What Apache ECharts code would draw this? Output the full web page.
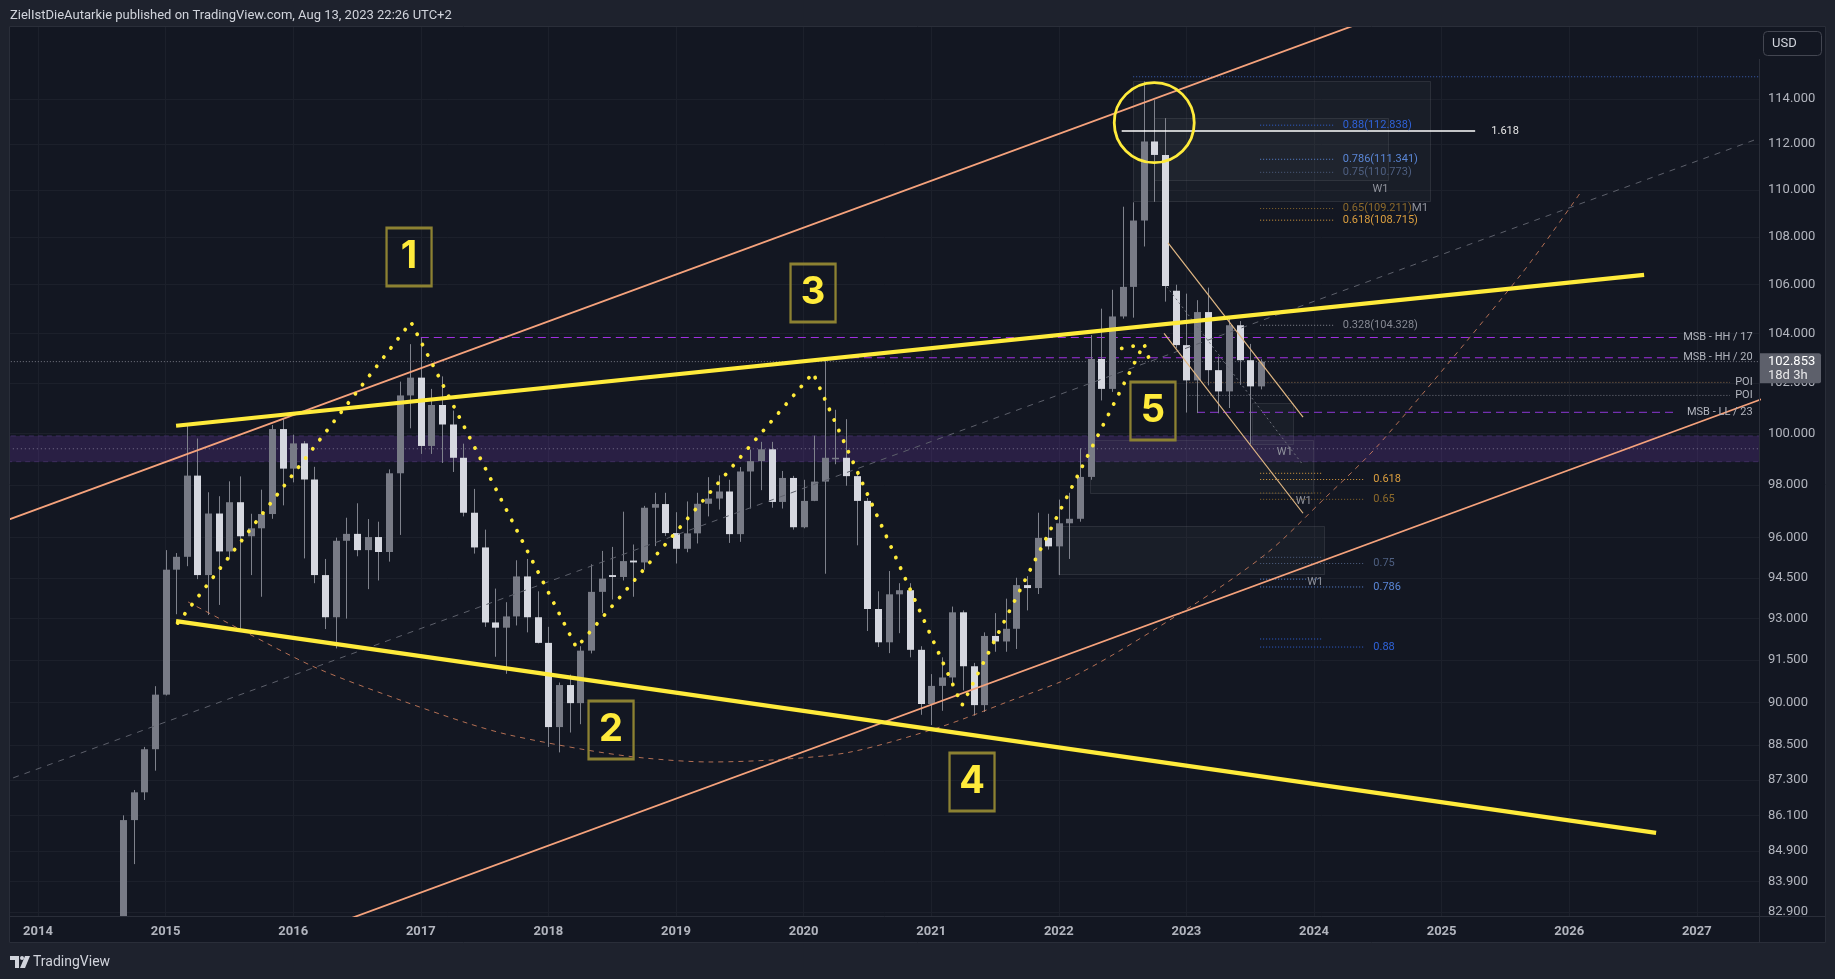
<!DOCTYPE html>
<html><head><meta charset="utf-8">
<script src="https://cdn.jsdelivr.net/npm/echarts@6/dist/echarts.min.js"></script>
<style>html,body{margin:0;padding:0;background:#1e222d;}#c{width:1835px;height:979px;}</style>
</head><body><div id="c"></div>
<script>
// ---------------- DATA (US Dollar Index, monthly) ----------------
const months = ['2014-09','2014-10','2014-11','2014-12',
'2015-01','2015-02','2015-03','2015-04','2015-05','2015-06','2015-07','2015-08','2015-09','2015-10','2015-11','2015-12',
'2016-01','2016-02','2016-03','2016-04','2016-05','2016-06','2016-07','2016-08','2016-09','2016-10','2016-11','2016-12',
'2017-01','2017-02','2017-03','2017-04','2017-05','2017-06','2017-07','2017-08','2017-09','2017-10','2017-11','2017-12',
'2018-01','2018-02','2018-03','2018-04','2018-05','2018-06','2018-07','2018-08','2018-09','2018-10','2018-11','2018-12',
'2019-01','2019-02','2019-03','2019-04','2019-05','2019-06','2019-07','2019-08','2019-09','2019-10','2019-11','2019-12',
'2020-01','2020-02','2020-03','2020-04','2020-05','2020-06','2020-07','2020-08','2020-09','2020-10','2020-11','2020-12',
'2021-01','2021-02','2021-03','2021-04','2021-05','2021-06','2021-07','2021-08','2021-09','2021-10','2021-11','2021-12',
'2022-01','2022-02','2022-03','2022-04','2022-05','2022-06','2022-07','2022-08','2022-09','2022-10','2022-11','2022-12',
'2023-01','2023-02','2023-03','2023-04','2023-05','2023-06','2023-07','2023-08'];
const opens = [82.76,85.94,86.88,88.36,
90.27,94.80,95.28,98.36,94.60,96.91,95.48,97.34,96.05,96.35,96.89,100.17,
98.63,99.61,98.21,94.60,93.05,95.88,96.14,95.53,96.02,95.46,98.45,101.50,
102.21,99.51,101.12,100.35,99.05,96.94,95.63,92.86,92.67,93.08,94.55,93.05,
92.12,89.13,90.61,89.97,91.84,93.98,94.60,94.53,95.14,95.07,97.13,97.27,
96.17,95.58,96.16,97.28,97.48,97.75,96.13,98.52,98.92,99.38,97.35,98.27,
96.39,97.39,98.13,99.00,99.05,98.34,97.39,93.35,92.14,93.89,94.04,91.87,
89.94,90.58,90.88,93.23,91.28,89.90,92.37,92.17,92.63,94.23,94.12,95.99,
95.67,96.54,96.71,98.31,102.96,101.76,104.69,105.91,108.70,112.12,111.53,105.75,
103.52,102.10,104.87,102.51,101.66,104.33,102.91,101.86];
const highs = [86.10,86.96,88.44,90.57,
95.53,95.42,100.39,99.80,97.72,97.57,98.14,98.33,96.90,97.82,100.33,100.60,
99.95,99.70,98.70,95.20,96.00,96.75,97.30,96.70,96.60,98.60,102.05,103.56,
103.82,101.76,102.26,100.90,99.60,97.85,96.30,94.10,93.60,95.15,95.20,94.00,
92.70,90.70,90.98,92.00,95.00,95.50,95.65,96.98,95.74,97.20,97.70,97.70,
96.96,97.37,97.70,98.30,98.37,98.20,98.69,99.37,99.67,99.67,98.54,98.35,
98.20,99.91,102.99,100.93,100.56,98.40,97.50,94.00,94.75,94.30,94.30,92.00,
91.00,91.60,93.44,93.30,91.40,92.50,93.20,93.73,94.50,94.56,96.94,96.90,
97.44,97.70,99.42,103.93,105.01,105.79,109.29,109.48,114.79,113.95,113.15,106.00,
105.63,105.36,105.88,103.06,104.70,104.50,103.57,102.95];
const lows = [82.53,84.47,86.62,87.62,
90.24,93.16,94.93,94.45,93.13,93.50,95.18,92.62,94.60,93.80,96.71,97.22,
98.10,95.22,94.30,92.62,91.92,93.00,95.30,94.08,94.40,95.10,96.10,100.20,
99.20,99.20,98.85,98.50,96.80,95.40,92.70,91.62,91.01,92.75,92.50,92.10,
88.44,88.25,88.94,89.23,91.74,93.20,93.70,94.40,93.80,94.80,95.68,96.06,
95.03,95.45,95.78,96.80,97.06,95.80,95.84,97.10,97.80,97.13,97.10,96.30,
96.35,97.38,94.65,98.80,97.97,95.71,92.55,91.97,91.75,92.47,91.60,89.56,
89.20,89.70,90.60,90.42,89.53,89.66,91.80,91.80,91.90,93.30,93.90,95.55,
94.60,95.20,96.60,98.20,101.30,101.64,104.60,104.64,107.60,109.50,105.30,103.39,
100.82,100.80,101.90,100.79,101.00,101.92,99.58,101.74];
const closes = [85.94,86.88,88.36,90.27,
94.80,95.28,98.36,94.60,96.91,95.48,97.34,96.05,96.35,96.89,100.17,98.63,
99.61,98.21,94.60,93.05,95.88,96.14,95.53,96.02,95.46,98.45,101.50,102.21,
99.51,101.12,100.35,99.05,96.94,95.63,92.86,92.67,93.08,94.55,93.05,92.12,
89.13,90.61,89.97,91.84,93.98,94.47,94.53,95.12,95.07,97.13,97.27,96.17,
95.58,96.16,97.28,97.48,97.75,96.13,98.52,98.92,99.38,97.35,98.27,96.39,
97.39,98.13,99.05,99.05,98.34,97.39,93.35,92.14,93.89,94.04,91.87,89.94,
90.58,90.88,93.23,91.28,89.90,92.37,92.17,92.63,94.23,94.12,95.99,95.67,
96.54,96.71,98.31,102.96,101.76,104.69,105.91,108.70,112.12,111.53,105.95,103.52,
102.10,104.87,102.51,101.66,104.33,102.91,101.86,102.85];

const yTickLabels = [114, 112, 110, 108, 106, 104, 102, 100, 98, 96, 94.5, 93, 91.5, 90, 88.5, 87.3, 86.1, 84.9, 83.9, 82.9];
const xTickLabels = [2014,2015,2016,2017,2018,2019,2020,2021,2022,2023,2024,2025,2026,2027];
const lastPrice = 102.853;
const countdown = '18d 3h';

// drawings: [decimal year, price]
const channelUpper = [[2014.486, 97.96], [2023.578, 115.76]];
const channelLower = [[2020.286, 88.74], [2024.831, 96.48]];
const channelMid   = [[2014.486, 88.47], [2027.488, 112.26]];
const wedgeUpper   = [[2015.082, 100.30], [2026.587, 106.41]];
const wedgeLower   = [[2015.082, 92.91], [2026.681, 85.51]];
const arcPoints = [[2015.176,93.61],[2015.638,92.48],[2016.187,91.21],[2016.838,90.08],[2017.363,89.27],[2017.699,88.85],
  [2018.303,88.33],[2018.742,88.06],[2019.267,87.92],[2019.792,88.00],[2020.364,88.26],[2021.069,89.13],[2021.594,90.01],
  [2022.167,91.04],[2023.028,93.42],[2023.632,95.42],[2024.071,97.43],[2024.518,99.62],[2025.62,106.41],[2026.085,109.87]];
const wavePoints = [[2015.095,92.84],[2016.923,104.46],[2018.22,91.95],[2020.074,102.40],[2021.242,89.90],[2022.668,103.57],[2022.731,102.60]];
const waveSmall = [[2022.493,103.39],[2022.668,103.57]];
const waveLabels = ['1','2','3','4','5'];
const waveLabelAt = [[2016.908,107.16],[2018.491,89.03],[2020.074,105.66],[2021.32,87.23],[2022.738,100.88]];
const circleAt = [2022.748, 112.95];
const extLine = [[2022.493,112.58],[2025.263,112.58]];
const extLabel = '1.618';
const fallUpper = [[2022.856,107.75],[2023.914,100.64]];
const fallLower = [[2022.825,104.00],[2023.914,96.92]];
const fallMid   = [[2022.846,105.92],[2023.914,98.77]];
const topFibLevels = [[0.88,112.838],[0.786,111.341],[0.75,110.773],[0.65,109.211],[0.618,108.715],[0.328,104.328]];
const lowFibLevels = [[0.618,98.21],[0.65,97.45],[0.75,95.03],[0.786,94.16],[0.88,91.97]];
const lowFibLevels2 = [98.45,97.69,95.26,94.45,92.26];
const msbLevels = [['MSB - HH / 17',103.83,2017.0],['MSB - HH / 20',103.01,2020.167],['MSB - LL / 23',100.83,2023.083]];
const poiLevels = [102.02, 101.50];
const zone = [98.9, 99.9, 99.4];
const topLine = 115.0;
const boxes = [[2022.583,114.8,2024.914,109.53],[2022.747,113.14,2024.583,110.44],[2023.512,101.19,2023.83,99.58],
  [2022.245,99.74,2023.995,97.69],[2021.997,96.43,2024.081,94.64]];
const w1Labels = [[2024.52,110.06],[2023.77,99.26],[2023.92,97.39],[2024.01,94.34]];

// ---------------- helpers ----------------
const L = Math.log;
const ym = y => (y - 2014) * 12;
const mOf = s => (parseInt(s.slice(0,4)) - 2014) * 12 + parseInt(s.slice(5,7)) - 1;
const P = ([y, p]) => [ym(y), L(p)];
const XMIN = -2.633, XMAX = 161.85;
function extend(a, b) {
  const A = P(a), B = P(b), s = (B[1]-A[1])/(B[0]-A[0]);
  return [[XMIN-5, A[1]+s*(XMIN-5-A[0])], [XMAX+5, A[1]+s*(XMAX+5-A[0])]];
}
function line(data, style, z, extra) {
  return Object.assign({type:'line', data, symbol:'none', showSymbol:false, silent:true, animation:false,
    clip:true, z: z||4, lineStyle: style, emphasis:{disabled:true}}, extra||{});
}
const FONT = 'Roboto, "Noto Sans", sans-serif';
const C = {blue:'#2f62d8', lblue:'#5a86d6', gblue:'#4e5f80', brown:'#8d6a2b', orange:'#dc9f3f', gray:'#868993'};
const topColors = [C.blue, C.lblue, C.gblue, C.brown, C.orange, C.gray];
const lowColors = [C.orange, C.brown, C.gblue, C.lblue, C.blue];

const candleData = months.map((m,i) => [mOf(m), L(opens[i]), L(highs[i]), L(lows[i]), L(closes[i])]);

const series = [];
// zone band
series.push({type:'custom', z:1, silent:true, clip:true, animation:false,
  data:[[XMIN-5, L(zone[1]), XMAX+5, L(zone[0])]], encode:{x:[0,2], y:[1,3]},
  renderItem(params, api){
    const a = api.coord([api.value(0), api.value(1)]), b = api.coord([api.value(2), api.value(3)]);
    return {type:'rect', shape:{x:a[0], y:a[1], width:b[0]-a[0], height:b[1]-a[1]},
      style:{fill:'rgba(112,58,180,0.24)', stroke:'#3d2d5e', lineWidth:1, lineDash:[5,4]}};
  }});
series.push(line([[XMIN-5,L(zone[2])],[XMAX+5,L(zone[2])]], {color:'rgba(190,185,205,0.55)', width:1, type:[1,3]}, 1));
// boxes
series.push({type:'custom', z:1, silent:true, clip:true, animation:false,
  data: boxes.map(b => [ym(b[0]), L(b[1]), ym(b[2]), L(b[3])]), encode:{x:[0,2], y:[1,3]},
  renderItem(params, api){
    const a = api.coord([api.value(0), api.value(1)]), b = api.coord([api.value(2), api.value(3)]);
    return {type:'rect', shape:{x:Math.round(a[0])+0.5, y:Math.round(a[1])+0.5, width:Math.round(b[0]-a[0]), height:Math.round(b[1]-a[1])},
      style:{fill:'rgba(120,123,134,0.07)', stroke:'rgba(120,123,134,0.22)', lineWidth:1}};
  }});
// candles
series.push({type:'custom', z:3, silent:true, clip:true, animation:false,
  data: candleData, encode:{x:0, y:[1,2,3,4]},
  renderItem(params, api){
    const x = api.value(0), o = api.value(1), h = api.value(2), l = api.value(3), c = api.value(4);
    const pO = api.coord([x,o]), pC = api.coord([x,c]), pH = api.coord([x,h]), pL = api.coord([x,l]);
    const cx = Math.round(pO[0]) + 0.5;
    const top = Math.min(pO[1], pC[1]), bot = Math.max(pO[1], pC[1]);
    const up = c >= o;
    return {type:'group', children:[
      {type:'line', shape:{x1:cx, y1:pH[1], x2:cx, y2:pL[1]}, style:{stroke:'#7f828c', lineWidth:1}},
      {type:'rect', shape:{x:cx-3.5, y:top, width:7, height:Math.max(bot-top, 1.5)}, style:{fill: up ? '#787b86' : '#d6d8e0'}}
    ]};
  }});
// price line
series.push(line([[XMIN-5,L(lastPrice)],[XMAX+5,L(lastPrice)]], {color:'#787b86', width:1, type:[1,2]}, 2));
// top blue dotted
series.push(line([[ym(2022.583),L(topLine)],[XMAX+5,L(topLine)]], {color:'#3d62b8', width:1, type:[1,2]}, 2));
// MSB lines
msbLevels.forEach((m,i) => {
  series.push(line([[ym(m[2]),L(m[1])],[ym(2026.85),L(m[1])]], {color: i===2 ? '#7430b0' : '#a030e0', width:1.2, type:[8,5]}, 2));
});
series.push(line([[ym(2023.0),L(poiLevels[0])],[ym(2027.26),L(poiLevels[0])]], {color:'#8a6a4a', width:1, type:[1,2]}, 2));
series.push(line([[ym(2023.0),L(poiLevels[1])],[ym(2027.26),L(poiLevels[1])]], {color:'#70737d', width:1, type:[1,2]}, 2));
// fib lines
topFibLevels.forEach((f,i) => series.push(line([[ym(2023.578),L(f[1])],[ym(2024.15),L(f[1])]], {color:topColors[i], width:1, type:[1,2]}, 2)));
lowFibLevels.forEach((f,i) => series.push(line([[ym(2023.578),L(f[1])],[ym(2024.4),L(f[1])]], {color:lowColors[i], width:1, type:[1,2]}, 2)));
lowFibLevels2.forEach((p,i) => series.push(line([[ym(2023.578),L(p)],[ym(2024.07),L(p)]], {color:lowColors[i], width:1, type:[1,2]}, 2)));
// channel lines
series.push(line(extend(...channelMid), {color:'#5d606b', width:1, type:[6,6]}, 4));
series.push(line(extend(...channelUpper), {color:'#f5a27c', width:1.8}, 4));
series.push(line(extend(...channelLower), {color:'#f5a27c', width:1.8}, 4));
series.push(line(arcPoints.map(P), {color:'rgba(232,140,100,0.75)', width:1, type:[5,5]}, 4, {smooth:0.3}));
// falling channel
series.push(line(fallUpper.map(P), {color:'#e2b884', width:1.2}, 4));
series.push(line(fallLower.map(P), {color:'#e2b884', width:1.2}, 4));
series.push(line(fallMid.map(P), {color:'#6f727c', width:1, type:[2,3]}, 4));
// wedge yellow lines
series.push(line(wedgeUpper.map(P), {color:'#ffeb3b', width:4.2}, 5));
series.push(line(wedgeLower.map(P), {color:'#ffeb3b', width:4.2}, 5));
// 1.618 line
series.push(line(extLine.map(P), {color:'#ffffff', width:1.5}, 5));
// wave zigzag
series.push(line(wavePoints.map(P), {color:'#ffeb3b', width:3.8, type:[0.1,11.5], cap:'round'}, 6));
series.push(line(waveSmall.map(P), {color:'#ffeb3b', width:3.8, type:[0.1,11.5], cap:'round'}, 6));
// circle
series.push({type:'scatter', z:7, silent:true, animation:false, data:[P(circleAt)], symbol:'circle', symbolSize:80,
  itemStyle:{color:'rgba(0,0,0,0)', borderColor:'#ffeb3b', borderWidth:2.8, opacity:1}, emphasis:{disabled:true}});
// wave number boxes
series.push({type:'scatter', z:7, silent:true, animation:false,
  data: waveLabelAt.map((a,i) => [ym(a[0]), L(a[1]), waveLabels[i]]), symbol:'rect', symbolSize:[45,58],
  itemStyle:{color:'rgba(0,0,0,0)', borderColor:'#8c8132', borderWidth:2.6, opacity:1}, emphasis:{disabled:true},
  label:{show:true, position:'inside', formatter: p => p.value[2], color:'#ffeb3b', opacity:1, fontSize:38, fontWeight:'bold', fontFamily:'Inter, Roboto, sans-serif'}});

// text annotations
const texts = [];
topFibLevels.forEach((f,i) => {
  if (f[0] === 0.65) texts.push({at:[2024.225,f[1]], rich:true, text:'{a|' + f[0] + '(' + f[1].toFixed(3) + ')}{b|M1}', color:topColors[i]});
  else texts.push({at:[2024.225,f[1]], text: f[0] + '(' + f[1].toFixed(3) + ')', color:topColors[i]});
});
lowFibLevels.forEach((f,i) => texts.push({at:[2024.465,f[1]], text:String(f[0]), color:lowColors[i]}));
w1Labels.forEach(a => texts.push({at:a, text:'W1', color:'#8f929b', align:'center'}));
msbLevels.forEach(m => texts.push({at:[2027.438,m[1]], text:m[0], color:'#b2b5be', align:'right'}));
poiLevels.forEach(p => texts.push({at:[2027.438,p], text:'POI', color:'#b2b5be', align:'right'}));
texts.push({at:[2025.39, extLine[0][1]], text:extLabel, color:'#e6e6e6'});
series.push({type:'custom', z:8, silent:true, clip:false, animation:false,
  data: texts.map((t,i) => [ym(t.at[0]), L(t.at[1]), i]), encode:{x:0, y:1},
  renderItem(params, api){
    const t = texts[params.dataIndex];
    const p = api.coord([api.value(0), api.value(1)]);
    const style = {text:t.text, fill:t.color, font:'11px ' + FONT, align:t.align||'left', verticalAlign:'middle'};
    if (t.rich) style.rich = {a:{fill:t.color, font:'11px ' + FONT}, b:{fill:'#8f929b', font:'11.5px ' + FONT}};
    return {type:'text', x:p[0], y:p[1], style};
  }});

const chart = echarts.init(document.getElementById('c'), null, {renderer:'canvas'});
chart.setOption({
  backgroundColor:'#131722',
  animation:false,
  grid:{left:10, right:76, top:26, bottom:63, outerBoundsMode:'none', containLabel:false},
  xAxis:{type:'value', min:XMIN, max:XMAX,
    axisLine:{show:true, lineStyle:{color:'#2a2e39'}}, axisTick:{show:false, customValues: xTickLabels.map(y => (y-2014)*12)},
    splitLine:{show:true, lineStyle:{color:'#1c202b'}},
    axisLabel:{customValues: xTickLabels.map(y => (y-2014)*12), formatter: v => String(Math.round(2014 + v/12)),
      color:'#b2b5be', fontSize:13, fontWeight:'bold', fontFamily:FONT, margin:9}},
  yAxis:{type:'value', position:'right', min:L(82.77), max:L(117.31), scale:true,
    axisLine:{show:false}, axisTick:{show:false, customValues: yTickLabels.map(L)},
    splitLine:{show:true, lineStyle:{color:'#1c202b'}},
    axisLabel:{customValues: yTickLabels.map(L), formatter: v => Math.exp(v).toFixed(3),
      color:'#b2b5be', fontSize:13, fontFamily:FONT, margin:9}},
  series
});

const py = chart.convertToPixel({yAxisIndex:0}, L(lastPrice));
chart.setOption({graphic:[
  {type:'rect', silent:true, shape:{x:0,y:0,width:1835,height:26}, style:{fill:'#1e222d'}, z:100},
  {type:'rect', silent:true, shape:{x:0,y:943,width:1835,height:36}, style:{fill:'#1e222d'}, z:100},
  {type:'rect', silent:true, shape:{x:0,y:0,width:9,height:979}, style:{fill:'#1e222d'}, z:100},
  {type:'rect', silent:true, shape:{x:1826,y:0,width:9,height:979}, style:{fill:'#1e222d'}, z:100},
  {type:'rect', silent:true, shape:{x:9.5,y:26.5,width:1816,height:916}, style:{fill:'none', stroke:'#2a2e39', lineWidth:1}, z:100},
  {type:'line', silent:true, shape:{x1:1759.5,y1:59,x2:1759.5,y2:943}, style:{stroke:'#2a2e39', lineWidth:1}, z:100},
  {type:'line', silent:true, shape:{x1:1759,y1:916.5,x2:1826,y2:916.5}, style:{stroke:'#2a2e39', lineWidth:1}, z:100},
  {type:'text', silent:true, x:10, y:16, style:{text:'ZielIstDieAutarkie published on TradingView.com, Aug 13, 2023 22:26 UTC+2', fill:'#d1d4dc', font:'13px ' + FONT, verticalAlign:'middle'}, z:101},
  {type:'rect', silent:true, shape:{x:1763.5,y:31.5,width:58,height:24,r:4}, style:{fill:'#131722', stroke:'#434651', lineWidth:1}, z:101},
  {type:'text', silent:true, x:1772, y:44, style:{text:'USD', fill:'#d1d4dc', font:'13px ' + FONT, verticalAlign:'middle'}, z:102},
  {type:'rect', silent:true, shape:{x:1760,y:py-8.5,width:61,height:30,r:[0,2,2,0]}, style:{fill:'#5d606b'}, z:101},
  {type:'text', silent:true, x:1768, y:py+0.5, style:{text:lastPrice.toFixed(3), fill:'#ffffff', font:'13px ' + FONT, verticalAlign:'middle'}, z:102},
  {type:'text', silent:true, x:1768, y:py+14, style:{text:countdown, fill:'#e8e8ea', font:'13px ' + FONT, verticalAlign:'middle'}, z:102},
  {type:'polygon', silent:true, shape:{points:[[10,956],[19,956],[19,968],[15,968],[15,960],[10,960]]}, style:{fill:'#d1d4dc'}, z:101},
  {type:'circle', silent:true, shape:{cx:22,cy:958,r:2}, style:{fill:'#d1d4dc'}, z:101},
  {type:'polygon', silent:true, shape:{points:[[25,956],[30,956],[25,968],[20,968]]}, style:{fill:'#d1d4dc'}, z:101},
  {type:'text', silent:true, x:33, y:962, style:{text:'TradingView', fill:'#d1d4dc', font:'14px ' + FONT, verticalAlign:'middle'}, z:101}
]});
</script></body></html>
